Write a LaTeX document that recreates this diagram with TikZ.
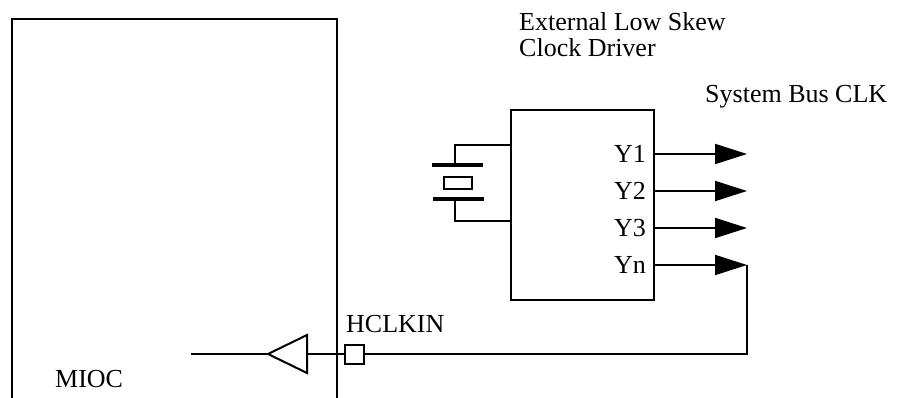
\documentclass[tikz,border=0pt]{standalone}
\usepackage{fontspec}
\setmainfont{Liberation Serif}
\usetikzlibrary{arrows.meta,calc}

\begin{document}
\begin{tikzpicture}[x=1pt, y=-1pt]
        % Define styles
        \tikzset{
            wire/.style={line width=2pt},
            chip/.style={draw, rectangle, line width=2pt, minimum width=143pt, minimum height=190pt},
            pinbox/.style={draw, rectangle, line width=2pt, minimum size=19pt, inner sep=0pt},
            plate/.style={line width=4pt},
            sigarrow/.style={-{Triangle[length=32pt,width=20pt]}, line width=2pt},
            lbl/.style={inner sep=0pt, font=\fontsize{26}{27}\selectfont}
        }

        \useasboundingbox (0,0) rectangle (905,398);

        % Place nodes
        \node[chip] (drv) at (582.5,205) {};
        \node[pinbox] (hclk) at (354.5,354) {};
        \coordinate (miocbl) at (12,398);
        \coordinate (mioctr) at (337,19);
        \coordinate (miocbr) at (337,398);
        \coordinate (miocin) at (191,354);
        \coordinate (buftip) at (268,354);
        \coordinate (bufbase) at (307,354);
        \coordinate (leadt) at (511,145);
        \coordinate (leadb) at (511,221);

        % Labels
        \node[lbl, anchor=base west] (drvtitle) at (519,31) {External Low Skew};
        \node[lbl, anchor=base west] (drvsub) at (519,57) {Clock Driver};
        \node[lbl, anchor=base west] (busclk) at (705,103) {System Bus CLK};
        \node[lbl, anchor=base west] (mioc) at (55,387) {MIOC};
        \node[lbl, anchor=base west] (hclkname) at (346,332) {HCLKIN};

        % MIOC outline (open at the bottom)
        \draw[wire] (miocbl) |- (mioctr) -- (miocbr);

        % Clock outputs
        \foreach \name/\yy in {Y1/154, Y2/191, Y3/228, Yn/265} {
            \node[lbl, anchor=east] (out\name) at (646,\yy) {\name};
            \coordinate (tip\name) at (747,\yy);
            \draw[sigarrow] (drv.east |- out\name) -- (tip\name);
        }

        % Crystal
        \draw[wire] (leadt) -| (455,163);
        \draw[plate] (432,165) -- (483,165);
        \draw[wire] (443.5,177) rectangle (471.5,189);
        \draw[plate] (433,199) -- (484,199);
        \draw[wire] (455,201) |- (leadb);

        % Input buffer
        \draw[wire] (bufbase) -- (307,335) -- (buftip) -- (307,373) -- cycle;
        \draw[wire] (miocin) -- (buftip);
        \draw[wire] (bufbase) -- (hclk.west);

        % Feedback to HCLKIN
        \draw[wire] (tipYn) |- (hclk.east);
    \end{tikzpicture}
\end{document}
